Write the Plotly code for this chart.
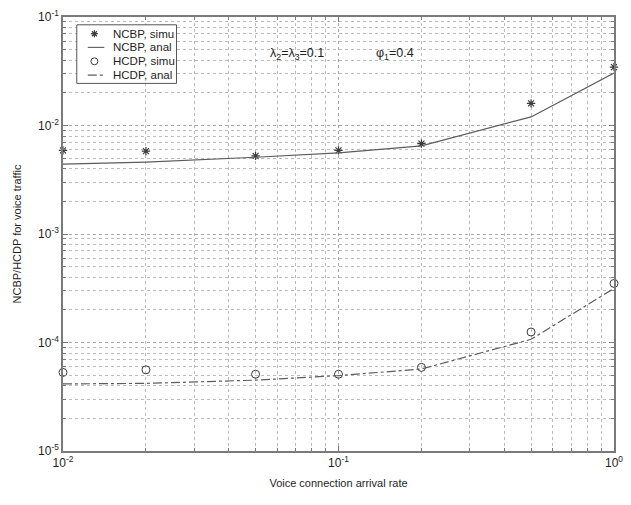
import plotly.graph_objects as go

# Voice connection arrival rate
arrival_rate = [0.01, 0.02, 0.05, 0.1, 0.2, 0.5, 1.0]

# New-call blocking probability
ncbp_simu = [5.9e-3, 5.8e-3, 5.25e-3, 5.9e-3, 6.8e-3, 1.6e-2, 3.45e-2]
ncbp_anal = [4.4e-3, 4.6e-3, 5.1e-3, 5.6e-3, 6.5e-3, 1.2e-2, 3.05e-2]

# Handoff-call dropping probability
hcdp_simu = [5.3e-5, 5.6e-5, 5.1e-5, 5.1e-5, 5.9e-5, 1.25e-4, 3.5e-4]
hcdp_anal = [4.15e-5, 4.2e-5, 4.5e-5, 4.95e-5, 5.7e-5, 1.07e-4, 3.15e-4]

series_names = ["NCBP, simu", "NCBP, anal", "HCDP, simu", "HCDP, anal"]

x_ticks = [0.01, 0.1, 1]
x_tick_text = ["10<sup>-2</sup>", "10<sup>-1</sup>", "10<sup>0</sup>"]
y_ticks = [1e-5, 1e-4, 1e-3, 1e-2, 1e-1]
y_tick_text = ["10<sup>-5</sup>", "10<sup>-4</sup>", "10<sup>-3</sup>",
               "10<sup>-2</sup>", "10<sup>-1</sup>"]

# minor ticks at 2..9 within each decade
x_minor = [m * 10.0 ** e for e in (-2, -1) for m in range(2, 10)]
y_minor = [m * 10.0 ** e for e in (-5, -4, -3, -2) for m in range(2, 10)]

FONT = "Liberation Sans, Arial, sans-serif"
INK = "#3c3c3c"
LINE = "#5c5c5c"
AX = "#7a7a7a"
TXT = "#1e1e1e"

fig = go.Figure()
fig.add_trace(go.Scatter(
    x=arrival_rate, y=ncbp_simu, mode="markers", name=series_names[0],
    cliponaxis=False,
    marker=dict(symbol="asterisk-open", size=7, color=INK,
                line=dict(width=1.2, color=INK)),
))
fig.add_trace(go.Scatter(
    x=arrival_rate, y=ncbp_anal, mode="lines", name=series_names[1],
    line=dict(color=LINE, width=1.2),
))
fig.add_trace(go.Scatter(
    x=arrival_rate, y=hcdp_simu, mode="markers", name=series_names[2],
    cliponaxis=False,
    marker=dict(symbol="circle-open", size=8, color=INK,
                line=dict(width=1.0, color=INK)),
))
fig.add_trace(go.Scatter(
    x=arrival_rate, y=hcdp_anal, mode="lines", name=series_names[3],
    line=dict(color=LINE, width=1.2, dash="dashdot"),
))

axis_common = dict(
    type="log",
    showline=True, linecolor=AX, linewidth=1.5, mirror="allticks",
    ticks="inside", ticklen=5, tickcolor=AX,
    showgrid=True, gridcolor="#a8a8a8", griddash="dot", gridwidth=1,
    zeroline=False,
    tickfont=dict(family=FONT, size=12, color=TXT),
    title_font=dict(family=FONT, size=11, color=TXT),
)

fig.update_xaxes(
    **axis_common,
    range=[-2, 0],
    tickvals=x_ticks, ticktext=x_tick_text,
    title_text="Voice connection arrival rate",
    title_standoff=10,
    minor=dict(tickmode="array", tickvals=x_minor, ticks="inside",
               ticklen=3, tickcolor=AX, showgrid=True,
               gridcolor="#bcbcbc", griddash="dot", gridwidth=1),
)
fig.update_yaxes(
    **axis_common,
    range=[-5, -1],
    tickvals=y_ticks, ticktext=y_tick_text,
    title_text="NCBP/HCDP for voice traffic",
    title_standoff=14,
    minor=dict(tickmode="array", tickvals=y_minor, ticks="inside",
               ticklen=3, tickcolor=AX, showgrid=True,
               gridcolor="#bcbcbc", griddash="dot", gridwidth=1),
)

# legend box: white panel over the grid, glyphs and text on top of it
lx0, lx1, ly0, ly1 = 0.025, 0.206, 0.847, 0.982
fig.add_shape(type="rect", xref="paper", yref="paper",
              x0=lx0, x1=lx1, y0=ly0, y1=ly1,
              line=dict(color="#555", width=1), fillcolor="white",
              layer="above")
row_y = [0.9615, 0.930, 0.898, 0.866]
glyph_x = 0.0570

# asterisk glyph
fig.add_shape(type="path", xref="paper", yref="paper",
              xsizemode="pixel", ysizemode="pixel",
              xanchor=glyph_x, yanchor=row_y[0],
              path="M-3.5,0 L3.5,0 M0,-3.5 L0,3.5 "
                   "M-2.5,-2.5 L2.5,2.5 M-2.5,2.5 L2.5,-2.5",
              line=dict(color=INK, width=1.2), layer="above")
# solid line glyph
fig.add_shape(type="line", xref="paper", yref="paper",
              x0=0.045, x1=0.075, y0=row_y[1], y1=row_y[1],
              line=dict(color=LINE, width=1.1), layer="above")
# circle glyph
fig.add_shape(type="circle", xref="paper", yref="paper",
              xsizemode="pixel", ysizemode="pixel",
              xanchor=glyph_x, yanchor=row_y[2],
              x0=-3.5, x1=3.5, y0=-3.5, y1=3.5,
              line=dict(color=INK, width=1.0), layer="above")
# dash-dot line glyph
fig.add_shape(type="line", xref="paper", yref="paper",
              x0=0.045, x1=0.075, y0=row_y[3], y1=row_y[3],
              line=dict(color=LINE, width=1.1, dash="dashdot"), layer="above")

for name, ry in zip(series_names, row_y):
    fig.add_annotation(
        x=0.0875, y=ry, xref="paper", yref="paper", showarrow=False,
        xanchor="left", yanchor="middle", text=name,
        font=dict(family=FONT, size=11.5, color=TXT),
    )

fig.add_annotation(
    x=0.372, y=0.914, xref="paper", yref="paper", showarrow=False,
    xanchor="left", yanchor="middle",
    text="λ<sub>2</sub>=λ<sub>3</sub>=0.1",
    font=dict(family=FONT, size=12.5, color=TXT),
)
fig.add_annotation(
    x=0.564, y=0.914, xref="paper", yref="paper", showarrow=False,
    xanchor="left", yanchor="middle",
    text="φ<sub>1</sub>=0.4",
    font=dict(family=FONT, size=12.5, color=TXT),
)

fig.update_layout(
    width=631, height=505,
    margin=dict(l=63, r=8, t=13, b=54),
    paper_bgcolor="white", plot_bgcolor="white",
    font=dict(family=FONT, size=11, color=TXT),
    showlegend=False,
)

fig.write_html("out.html")
